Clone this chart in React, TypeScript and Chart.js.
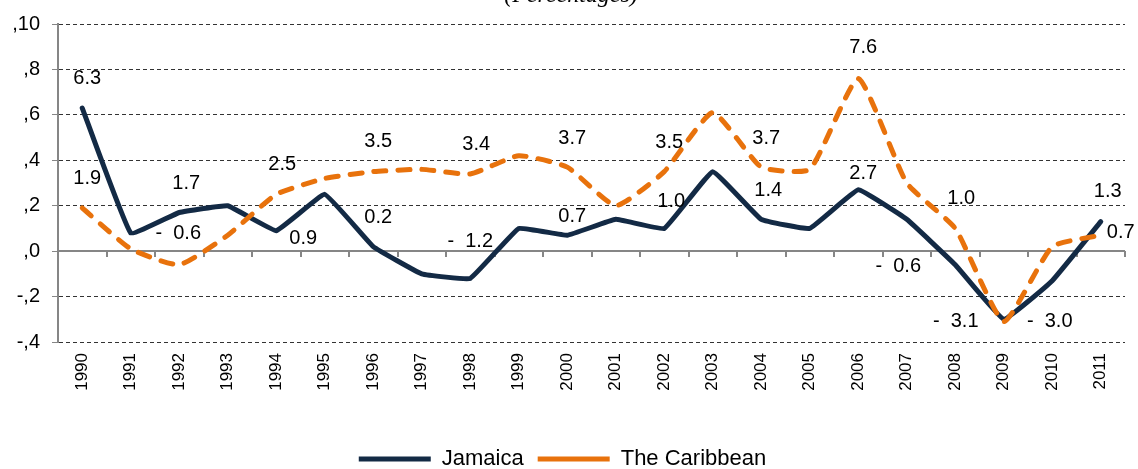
import React, { useEffect, useRef } from 'react';
import { Chart, registerables } from 'chart.js';

Chart.register(...registerables);

const years = ['1990', '1991', '1992', '1993', '1994', '1995', '1996', '1997', '1998', '1999', '2000', '2001', '2002', '2003', '2004', '2005', '2006', '2007', '2008', '2009', '2010', '2011'];
const jamaica = [6.3, 0.8, 1.7, 2.0, 0.9, 2.5, 0.2, -1.0, -1.2, 1.0, 0.7, 1.4, 1.0, 3.5, 1.4, 1.0, 2.7, 1.4, -0.6, -3.0, -1.3, 1.3];
const caribbean = [1.9, 0.1, -0.6, 0.7, 2.5, 3.2, 3.5, 3.6, 3.4, 4.2, 3.7, 2.0, 3.5, 6.1, 3.7, 3.6, 7.6, 3.0, 1.0, -3.1, 0.2, 0.7];
const yTickValues = [10, 8, 6, 4, 2, 0, -2, -4];

// label placement (dx, dy from the point), null = no label
type Off = [number, number] | null;
const jamaicaLabelOffsets: Off[] = [
  [5, -30], null, [7, -29], null, [27, 8], null, [5, -29], null, [0, -37], null, [5, -19], null,
  [7, -27], null, [7, -29], null, [5, -16], null, [-57, 2], [46, 2], null, [7, -30],
];
const caribbeanLabelOffsets: Off[] = [
  [5, -30], null, [-1, -31], null, [6, -30], null, [5, -30], null, [6, -29], null, [5, -29], null,
  [5, -29], null, [5, -29], null, [5, -31], null, [6, -30], [-48, 0], null, [20, -3],
];

const FONT = '"Liberation Sans", Arial, sans-serif';
const NAVY = '#132a45';
const ORANGE = '#e8720c';
const AXIS_GRAY = '#868686';

function fmtLabel(v: number): string {
  return v < 0 ? '-  ' + Math.abs(v).toFixed(1) : v.toFixed(1);
}
function fmtTick(v: number): string {
  return (v < 0 ? '-' : '') + ',' + Math.abs(v);
}

const titlePlugin = {
  id: 'topTitle',
  afterDraw(chart: any) {
    const ctx = chart.ctx;
    ctx.save();
    ctx.font = 'italic 24px "Liberation Serif", "Times New Roman", serif';
    ctx.fillStyle = '#000';
    ctx.textAlign = 'center';
    ctx.textBaseline = 'alphabetic';
    ctx.fillText('(Percentages)', 571, 2);
    ctx.restore();
  },
};

const zeroAxisPlugin = {
  id: 'zeroAxis',
  beforeDatasetsDraw(chart: any) {
    const { ctx } = chart;
    const x = chart.scales.x;
    const y = chart.scales.y;
    const y0 = Math.round(y.getPixelForValue(0));
    const n = x.ticks.length;
    ctx.save();
    ctx.strokeStyle = AXIS_GRAY;
    ctx.lineWidth = 2;
    ctx.beginPath();
    ctx.moveTo(x.left, y0);
    ctx.lineTo(x.right, y0);
    for (let i = 0; i <= n; i++) {
      const px = Math.round(x.left + ((x.right - x.left) * i) / n);
      ctx.moveTo(px, y0);
      ctx.lineTo(px, y0 + 6);
    }
    ctx.stroke();
    ctx.restore();
  },
};

const dataLabelPlugin = {
  id: 'valueLabels',
  afterDatasetsDraw(chart: any, _args: any, opts: any) {
    const ctx = chart.ctx;
    ctx.save();
    ctx.font = `20px ${FONT}`;
    ctx.fillStyle = '#000';
    ctx.textAlign = 'center';
    ctx.textBaseline = 'middle';
    chart.data.datasets.forEach((ds: any, di: number) => {
      const meta = chart.getDatasetMeta(di);
      const offs: Off[] = opts.offsets[di];
      meta.data.forEach((pt: any, i: number) => {
        const o = offs[i];
        if (!o) return;
        ctx.fillText(fmtLabel(ds.data[i]), pt.x + o[0], pt.y + o[1]);
      });
    });
    ctx.restore();
  },
};

export default function App() {
  const ref = useRef<HTMLCanvasElement | null>(null);

  useEffect(() => {
    if (!ref.current) return;
    const chart = new Chart(ref.current, {
      type: 'line',
      data: {
        labels: years,
        datasets: [
          {
            label: 'Jamaica',
            data: jamaica,
            borderColor: NAVY,
            backgroundColor: NAVY,
            borderWidth: 5,
            borderCapStyle: 'round',
            borderJoinStyle: 'round',
            pointRadius: 0,
            tension: 0.08,
            fill: false,
            order: 1,
          },
          {
            label: 'The Caribbean',
            data: caribbean,
            borderColor: ORANGE,
            backgroundColor: ORANGE,
            borderWidth: 5,
            borderDash: [12, 12],
            borderCapStyle: 'round',
            borderJoinStyle: 'round',
            pointRadius: 0,
            tension: 0.16,
            fill: false,
            order: 0,
          },
        ],
      } as any,
      options: {
        responsive: false,
        animation: false,
        devicePixelRatio: 1,
        events: [],
        layout: { padding: { top: 21, left: 0, right: 13, bottom: -11 } },
        scales: {
          x: {
            offset: true,
            grid: { display: false, drawTicks: false },
            border: { display: false },
            ticks: {
              minRotation: 90,
              maxRotation: 90,
              autoSkip: false,
              padding: 11,
              color: '#000',
              font: { family: FONT, size: 17 },
            },
            afterFit: (s: any) => {
              s.height = 92;
            },
          },
          y: {
            min: -4,
            max: 10,
            afterBuildTicks: (s: any) => {
              s.ticks = yTickValues.map((v) => ({ value: v }));
            },
            afterFit: (s: any) => {
              s.width = 58;
            },
            ticks: {
              callback: (v: any) => fmtTick(Number(v)),
              color: '#000',
              padding: 12,
              font: { family: FONT, size: 20 },
            },
            grid: {
              color: (c: any) => (c.tick && c.tick.value === 0 ? 'rgba(0,0,0,0)' : '#333333'),
              lineWidth: 1,
              drawTicks: true,
              tickLength: 6,
              tickColor: AXIS_GRAY,
              tickWidth: 1,
            },
            border: { display: true, color: AXIS_GRAY, width: 2, dash: [4, 3] },
          },
        },
        plugins: {
          title: { display: false },
          tooltip: { enabled: false },
          legend: {
            position: 'bottom',
            labels: {
              usePointStyle: true,
              pointStyle: 'line',
              pointStyleWidth: 72,
              boxHeight: 22,
              padding: 14,
              color: '#000',
              font: { family: FONT, size: 22 },
              sort: (a: any, b: any) => a.datasetIndex - b.datasetIndex,
            },
          },
          valueLabels: { offsets: [jamaicaLabelOffsets, caribbeanLabelOffsets] },
        } as any,
      },
      plugins: [zeroAxisPlugin, dataLabelPlugin, titlePlugin],
    } as any);
    return () => chart.destroy();
  }, []);

  return (
    <div style={{ position: 'absolute', left: 0, top: 0, width: 1138, height: 469, background: '#fff' }}>
      <canvas ref={ref} width={1138} height={469} style={{ display: 'block' }} />
    </div>
  );
}
